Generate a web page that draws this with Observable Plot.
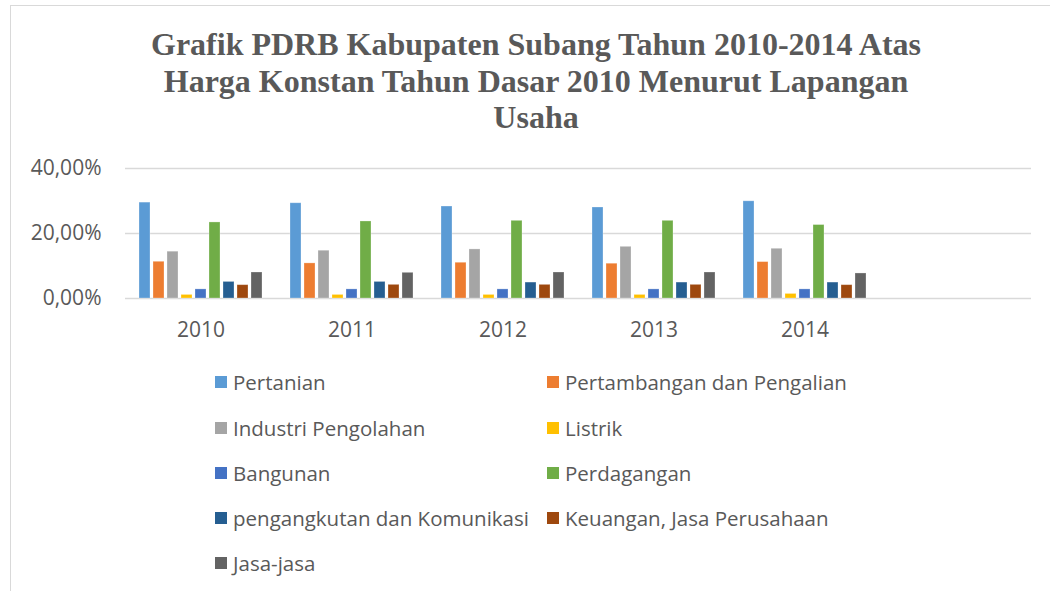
<!DOCTYPE html>
<html>
<head>
<meta charset="utf-8">
<script src="https://cdn.jsdelivr.net/npm/d3@7"></script>
<script src="https://cdn.jsdelivr.net/npm/@observablehq/plot@0.6"></script>
<style>
  html, body { margin: 0; padding: 0; background: #fff; width: 1050px; height: 591px; overflow: hidden; }
  #frame { position: absolute; left: 10px; top: 5px; width: 1100px; height: 700px;
           border-left: 1.5px solid #d9d9d9; border-top: 1.5px solid #d9d9d9; }
  #title { position: absolute; left: 0; top: 26px; width: 1072px; text-align: center;
           font-family: "Liberation Serif", serif; font-weight: bold; font-size: 32px;
           line-height: 36.5px; color: #595959; }
  #chart { position: absolute; left: 0; top: 140px; }
  .leg { position: absolute; font-family: "Open Sans", sans-serif; font-size: 20.5px; color: #595959;
         white-space: nowrap; line-height: 24px; }
  .sw { position: absolute; width: 12px; height: 12px; }
</style>
</head>
<body>
<div id="frame"></div>
<div id="title">Grafik PDRB Kabupaten Subang Tahun 2010-2014 Atas<br>Harga Konstan Tahun Dasar 2010 Menurut Lapangan<br>Usaha</div>
<div id="chart"></div>
<div id="legend"></div>
<script>
const years = ["2010", "2011", "2012", "2013", "2014"];
const yearSlots = [...years, "_"];
const sectors = ["Pertanian", "Pertambangan dan Pengalian", "Industri Pengolahan", "Listrik", "Bangunan",
  "Perdagangan", "pengangkutan dan Komunikasi", "Keuangan, Jasa Perusahaan", "Jasa-jasa"];
const colors = ["#5B9BD5", "#ED7D31", "#A5A5A5", "#FFC000", "#4472C4", "#70AD47", "#255E91", "#9E480E", "#636363"];
// values (%) per year, in sector order
const v2010 = [29.5, 11.3, 14.4, 1.1, 2.8, 23.4, 5.1, 4.1, 8.0];
const v2011 = [29.3, 10.8, 14.7, 1.1, 2.8, 23.7, 5.1, 4.2, 7.9];
const v2012 = [28.3, 11.0, 15.1, 1.1, 2.8, 23.9, 4.9, 4.2, 8.0];
const v2013 = [28.0, 10.7, 15.9, 1.1, 2.8, 23.9, 4.9, 4.2, 8.0];
const v2014 = [29.9, 11.2, 15.3, 1.4, 2.8, 22.6, 4.9, 4.1, 7.7];
const yTicks = [0, 20, 40];

const byYear = [v2010, v2011, v2012, v2013, v2014];
const data = years.flatMap((yr, i) => sectors.map((s, j) => ({year: yr, sector: s, value: byYear[i][j]})));
const grid = yearSlots.flatMap(yr => yTicks.map(t => ({year: yr, v: t})));

const chart = Plot.plot({
  width: 1050,
  height: 210,
  marginTop: 28,
  marginBottom: 52,
  marginLeft: 122,
  marginRight: 17,
  style: {fontFamily: "'Open Sans', sans-serif", fontSize: "21px", color: "#595959", background: "transparent"},
  fx: {domain: yearSlots, padding: 0, label: null, tickSize: 0, tickPadding: 24,
       tickFormat: d => d === "_" ? "" : d},
  x: {domain: sectors, paddingInner: 0.24, paddingOuter: 0.855, axis: null},
  y: {domain: [0, 40], ticks: yTicks, tickSize: 0, tickPadding: 24, label: null,
      tickFormat: d => d.toFixed(2).replace(".", ",") + "%"},
  color: {domain: sectors, range: colors},
  marks: [
    Plot.ruleY(grid, {fx: "year", y: "v", stroke: "#d9d9d9", strokeWidth: 1.5}),
    Plot.barY(data, {fx: "year", x: "sector", y: "value", fill: "sector", stroke: "#ffffff", strokeOpacity: 0.35, strokeWidth: 0.8})
  ]
});
document.getElementById("chart").appendChild(chart);

// legend
const leg = document.getElementById("legend");
const colSw = [215, 547], colTx = [233, 565];
const rowY = [382, 428, 473, 518, 563];
sectors.forEach((s, i) => {
  const c = i % 2, r = Math.floor(i / 2);
  const sw = document.createElement("div");
  sw.className = "sw";
  sw.style.left = colSw[c] + "px";
  sw.style.top = (rowY[r] - 6) + "px";
  sw.style.background = colors[i];
  leg.appendChild(sw);
  const t = document.createElement("div");
  t.className = "leg";
  t.style.left = colTx[c] + "px";
  t.style.top = (rowY[r] - 12) + "px";
  t.textContent = s;
  leg.appendChild(t);
});
</script>
</body>
</html>
